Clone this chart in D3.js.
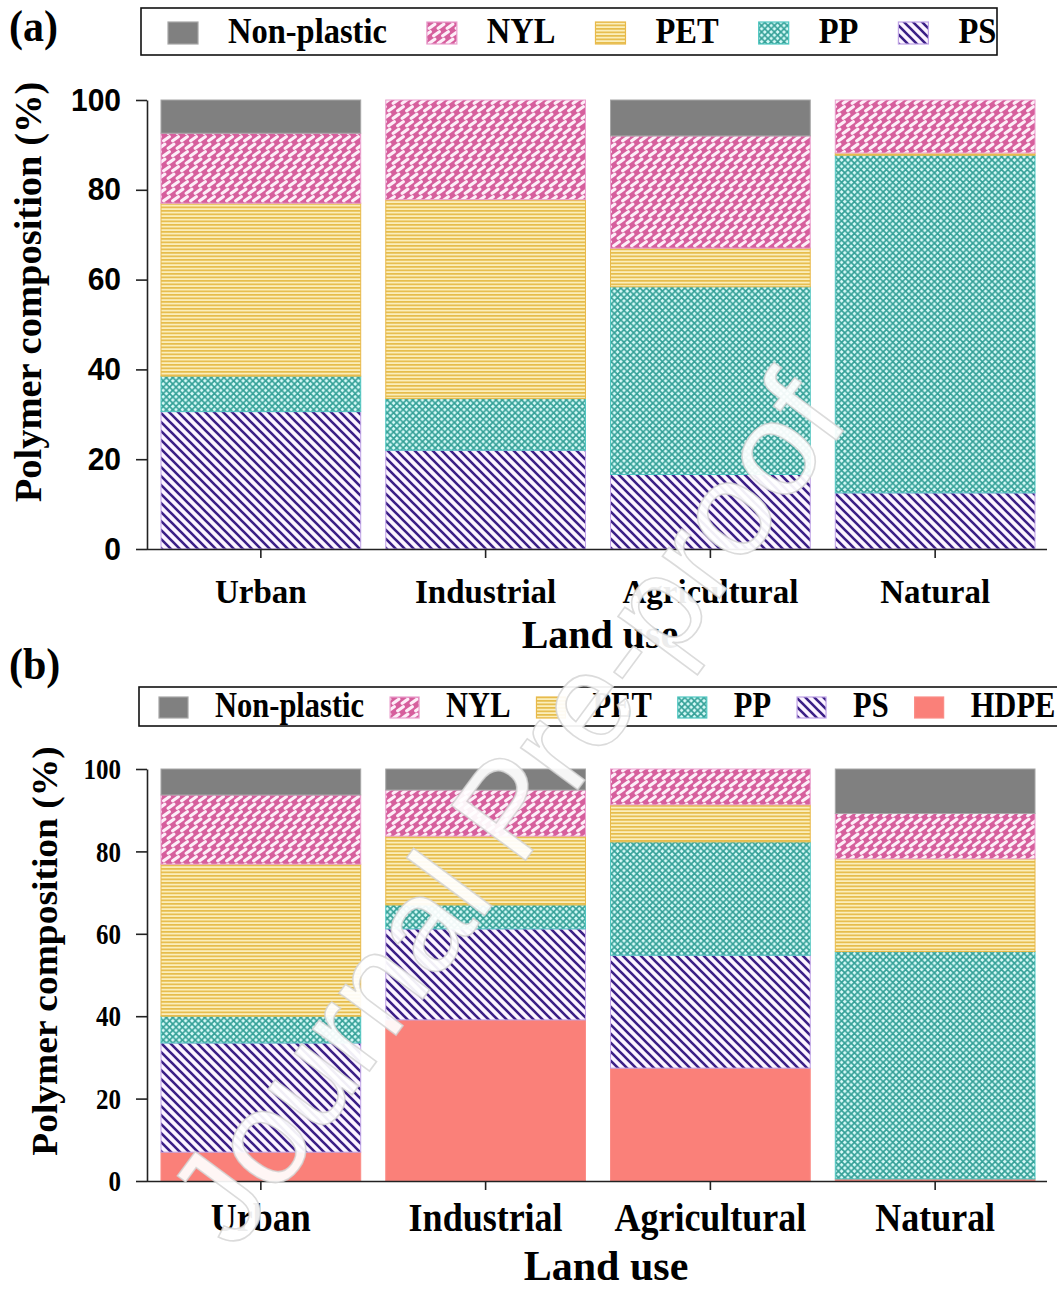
<!DOCTYPE html>
<html>
<head>
<meta charset="utf-8">
<script src="https://cdn.jsdelivr.net/npm/d3@7"></script>
<style>
  body { margin: 0; background: #fff; }
  svg { display: block; }
</style>
</head>
<body>
<svg id="fig" width="1057" height="1289"></svg>
<script>
// ---- data ----
const landUse = ["Urban", "Industrial", "Agricultural", "Natural"];
const yTicks = [0, 20, 40, 60, 80, 100];

// panel (a): polymer share (%) per land use, stacked bottom -> top
const stackA = ["PS", "PP", "PET", "NYL", "Non-plastic"];
const legendA = ["Non-plastic", "NYL", "PET", "PP", "PS"];
const aPS  = [30.6, 22.0, 16.6, 12.5];
const aPP  = [7.9, 11.5, 41.8, 75.2];
const aPET = [38.5, 44.3, 8.6, 0.5];
const aNYL = [15.6, 22.2, 25.0, 11.8];
const aNon = [7.4, 0.0, 8.0, 0.0];

// panel (b)
const stackB = ["HDPE", "PS", "PP", "PET", "NYL", "Non-plastic"];
const legendB = ["Non-plastic", "NYL", "PET", "PP", "PS", "HDPE"];
const bHDPE = [7.0, 39.1, 27.4, 0.5];
const bPS   = [26.5, 22.1, 27.4, 0.0];
const bPP   = [6.5, 5.8, 27.5, 55.2];
const bPET  = [36.9, 16.7, 9.0, 22.5];
const bNYL  = [16.8, 11.2, 8.7, 11.0];
const bNon  = [6.3, 5.1, 0.0, 10.8];

const svg = d3.select("#fig");
const defs = svg.append("defs");
const SERIF = "'Liberation Serif', 'Times New Roman', serif";
const SANS = "'Liberation Sans', Arial, sans-serif";

// ---- hatch patterns ----
function makePattern(id, w, h, bg) {
  const p = defs.append("pattern").attr("id", id)
    .attr("patternUnits", "userSpaceOnUse").attr("width", w).attr("height", h);
  p.append("rect").attr("width", w).attr("height", h).attr("fill", bg);
  return p;
}
// NYL: slanted white bricks on pink
{
  const p = makePattern("pat-nyl", 9, 15, "#d65f9d");
  const bricks = [[4.5, 3.75], [0, 11.25], [9, 11.25], [-4.5, 3.75], [13.5, 3.75]];
  bricks.forEach(([cx, cy]) => {
    p.append("line").attr("x1", cx - 2.8).attr("y1", cy + 2.0)
      .attr("x2", cx + 2.8).attr("y2", cy - 2.0)
      .attr("stroke", "#fdeef8").attr("stroke-width", 3.2).attr("stroke-linecap", "round");
  });
}
// PET: horizontal gold stripes
{
  const p = makePattern("pat-pet", 6, 3.5, "#fbeebb");
  p.append("rect").attr("width", 6).attr("height", 1.7).attr("fill", "#e6bd4c");
}
// PP: teal diamond cross-hatch
{
  const s = 6.4;
  const p = makePattern("pat-pp", s, s, "#d8fbf9");
  p.append("path").attr("d", `M0,0L${s},${s}M${s},0L0,${s}`)
    .attr("stroke", "#34a097").attr("stroke-width", 1.7);
}
// PS: dark purple back-diagonal lines
{
  const s = 9;
  const p = makePattern("pat-ps", s, s, "#fcf4ff");
  p.append("path").attr("d", `M0,0L${s},${s}M${-s / 2},${s / 2}L${s / 2},${s * 1.5}M${s / 2},${-s / 2}L${s * 1.5},${s / 2}`)
    .attr("stroke", "#3b1f86").attr("stroke-width", 2.6);
}

const fillOf = {
  "Non-plastic": "#808080",
  "NYL": "url(#pat-nyl)",
  "PET": "url(#pat-pet)",
  "PP": "url(#pat-pp)",
  "PS": "url(#pat-ps)",
  "HDPE": "#fa8079"
};
const edgeOf = {
  "Non-plastic": "#a6a6a6",
  "NYL": "#ea9fcd",
  "PET": "#e8b94a",
  "PP": "#4ec6c0",
  "PS": "#bfa2e6",
  "HDPE": "#fb8c86"
};

// text with a slight vertical stretch (tall, narrow type)
function stretchedText(g, x, y, str, size, k, opts = {}) {
  return g.append("text")
    .attr("transform", `translate(${x},${y}) scale(1,${k})`)
    .attr("font-family", opts.family || SERIF)
    .attr("font-weight", "bold")
    .attr("font-size", size)
    .attr("text-anchor", opts.anchor || "start")
    .attr("fill", "#000")
    .text(str);
}

function drawPanel(cfg) {
  const g = svg.append("g");
  const x = d3.scaleBand().domain(landUse).range([147, 1049])
    .paddingInner(0.107).paddingOuter(0.06);
  const y = d3.scaleLinear().domain([0, 100]).range([cfg.y0, cfg.y100]);

  const rows = landUse.map((lu, i) => {
    const r = { land: lu };
    cfg.keys.forEach(k => { r[k] = cfg.values[k][i]; });
    return r;
  });
  const series = d3.stack().keys(cfg.keys)(rows);

  g.selectAll("g.layer").data(series).join("g").attr("class", "layer")
    .each(function (s) {
      d3.select(this).selectAll("rect")
        .data(s.filter(d => d[1] - d[0] > 0))
        .join("rect")
        .attr("x", d => x(d.data.land) + 0.5)
        .attr("width", x.bandwidth() - 1)
        .attr("y", d => y(d[1]))
        .attr("height", d => y(d[0]) - y(d[1]))
        .attr("fill", fillOf[s.key])
        .attr("stroke", edgeOf[s.key])
        .attr("stroke-width", 1);
    });

  // y axis
  const ya = g.append("g").attr("transform", "translate(147,0)")
    .call(d3.axisLeft(y).tickValues(yTicks).tickSize(11).tickSizeOuter(0).tickPadding(cfg.tickPad));
  ya.select(".domain").attr("stroke", "#222").attr("stroke-width", 1.6);
  ya.selectAll(".tick line").attr("stroke", "#222").attr("stroke-width", 1.6);
  ya.selectAll(".tick text")
    .attr("font-family", cfg.yTickFamily).attr("font-weight", "bold")
    .attr("font-size", cfg.yTickSize).attr("fill", "#000")
    .attr("transform", `scale(1,${cfg.yTickK})`);

  // x axis
  const xa = g.append("g").attr("transform", `translate(0,${cfg.y0})`)
    .call(d3.axisBottom(x).tickSize(9).tickSizeOuter(0).tickFormat(() => ""));
  xa.select(".domain").attr("stroke", "#222").attr("stroke-width", 1.6)
    .attr("d", "M147,0.5H1047");
  xa.selectAll(".tick line").attr("stroke", "#222").attr("stroke-width", 1.6);
  landUse.forEach(lu => {
    stretchedText(g, x(lu) + x.bandwidth() / 2, cfg.xLabelY, lu, cfg.xLabelSize, cfg.xLabelK, { anchor: "middle" });
  });

  // axis titles
  stretchedText(g, cfg.titleX, cfg.titleY, "Land use", cfg.titleSize, cfg.titleK, { anchor: "middle" });
  g.append("text")
    .attr("transform", `translate(${cfg.yTitleX},${cfg.yTitleY}) rotate(-90) scale(1,${cfg.yTitleK})`)
    .attr("font-family", SERIF).attr("font-weight", "bold")
    .attr("font-size", cfg.yTitleSize).attr("text-anchor", "middle")
    .text("Polymer composition (%)");

  // panel letter
  stretchedText(g, 9, cfg.letterY, cfg.letter, 42, 1.05);

  // legend
  const lg = svg.append("g");
  lg.append("rect").attr("x", cfg.legBox[0]).attr("y", cfg.legBox[1])
    .attr("width", cfg.legBox[2]).attr("height", cfg.legBox[3])
    .attr("fill", "#fff").attr("stroke", "#111").attr("stroke-width", 1.6);
  let cx = cfg.legStart;
  cfg.legend.forEach(k => {
    lg.append("rect").attr("x", cx).attr("y", cfg.swY)
      .attr("width", cfg.swW).attr("height", cfg.swH)
      .attr("fill", fillOf[k]).attr("stroke", edgeOf[k]).attr("stroke-width", 1.2);
    cx += cfg.swW + cfg.swGap;
    const t = stretchedText(lg, cx, cfg.legTextY, k, cfg.legSize, cfg.legK);
    cx += t.node().getComputedTextLength() + cfg.itemGap;
  });
}

drawPanel({
  keys: stackA,
  values: { "PS": aPS, "PP": aPP, "PET": aPET, "NYL": aNYL, "Non-plastic": aNon },
  y0: 549, y100: 100,
  tickPad: 15, yTickFamily: SANS, yTickSize: 30, yTickK: 1.05,
  xLabelY: 603, xLabelSize: 33, xLabelK: 1.05,
  titleX: 600, titleY: 648, titleSize: 40, titleK: 1.0,
  yTitleX: 41, yTitleY: 292, yTitleSize: 38.5, yTitleK: 1.0,
  letter: "(a)", letterY: 41,
  legend: legendA,
  legBox: [141, 8, 856, 47],
  legStart: 168, swY: 22, swW: 30, swH: 22, swGap: 30, itemGap: 40,
  legTextY: 43, legSize: 32.5, legK: 1.1
});

drawPanel({
  keys: stackB,
  values: { "HDPE": bHDPE, "PS": bPS, "PP": bPP, "PET": bPET, "NYL": bNYL, "Non-plastic": bNon },
  y0: 1181, y100: 769,
  tickPad: 15, yTickFamily: SERIF, yTickSize: 25, yTickK: 1.22,
  xLabelY: 1231, xLabelSize: 36, xLabelK: 1.1,
  titleX: 606, titleY: 1280, titleSize: 42, titleK: 1.0,
  yTitleX: 57, yTitleY: 951, yTitleSize: 37.5, yTitleK: 0.95,
  letter: "(b)", letterY: 679,
  legend: legendB,
  legBox: [139, 687, 930, 39],
  legStart: 159, swY: 697, swW: 29, swH: 21, swGap: 27, itemGap: 26,
  legTextY: 717, legSize: 30.5, legK: 1.15
});

// "Journal Pre-proof" watermark across the page
svg.append("text")
  .attr("transform", "translate(515,815) rotate(-53.5)")
  .attr("font-family", SANS)
  .attr("font-size", 134)
  .attr("text-anchor", "middle")
  .attr("dominant-baseline", "middle")
  .attr("fill", "#fff").attr("fill-opacity", 0.93)
  .attr("stroke", "#d2d2d2").attr("stroke-width", 1.6).attr("stroke-opacity", 0.8)
  .text("Journal Pre-proof");
</script>
</body>
</html>
